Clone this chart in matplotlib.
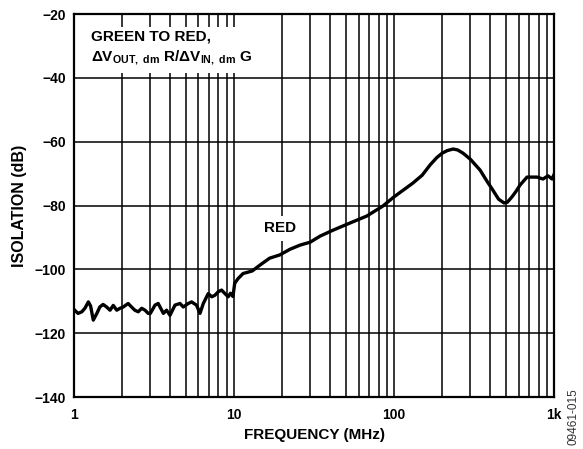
import numpy as np
import matplotlib
matplotlib.use("Agg")
from matplotlib import pyplot as plt
from matplotlib.ticker import FixedLocator, NullFormatter, FixedFormatter

plt.rcParams['font.family'] = ['Liberation Sans', 'DejaVu Sans']
plt.rcParams['font.weight'] = 'bold'
plt.rcParams['mathtext.fontset'] = 'custom'
plt.rcParams['mathtext.rm'] = 'Liberation Sans:bold'
plt.rcParams['mathtext.bf'] = 'Liberation Sans:bold'
plt.rcParams['mathtext.it'] = 'Liberation Sans:bold'

# frequency (MHz) and isolation (dB)
freq = [1.01, 1.06, 1.12, 1.17, 1.23, 1.27, 1.32, 1.39, 1.45, 1.52,
        1.60, 1.68, 1.76, 1.85, 1.94, 2.03, 2.18, 2.29, 2.40, 2.52,
        2.65, 2.78, 2.91, 3.0, 3.21, 3.36, 3.62, 3.79, 3.98, 4.28,
        4.6, 4.82, 5.18, 5.43, 5.83, 6.13, 6.43, 6.9, 7.26, 7.61,
        7.98, 8.37, 8.78, 9.2, 9.5, 9.85, 10.1, 10.6, 11.4, 12.2,
        13.0, 14.5, 16.7, 19.3, 22.4, 25.9, 29.9, 34.5, 41.7, 53,
        67.6, 85, 100, 131, 150, 168, 185, 200, 215, 234,
        250, 270, 300, 345, 380, 415, 450, 487, 510, 546,
        580, 613, 678, 783, 853, 917, 972, 1000]
isolation = [-112.8, -113.8, -113.3, -112.2, -110.2, -111.5, -115.9, -113.8, -111.8, -111.0,
             -111.8, -112.8, -111.3, -112.8, -112.2, -111.8, -110.7, -111.8, -112.8, -113.3,
             -112.2, -112.8, -113.8, -113.8, -111.2, -110.7, -113.8, -112.8, -114.4, -111.2,
             -110.7, -111.8, -110.7, -110.2, -111.2, -113.8, -110.7, -107.6, -108.6, -108.1,
             -107.0, -106.5, -107.6, -108.6, -107.5, -108.5, -104.4, -102.9, -101.3, -100.9,
             -100.5, -98.7, -96.5, -95.5, -93.7, -92.4, -91.5, -89.6, -87.7, -85.5,
             -83.3, -80.2, -77.3, -73.0, -70.5, -67.3, -65.0, -63.6, -62.8, -62.3,
             -62.6, -63.6, -65.5, -68.9, -72.3, -75.2, -78.0, -79.2, -79.0, -77.3,
             -75.5, -73.6, -71.1, -71.1, -71.7, -70.7, -71.7, -70.3]

x_major = [1, 10, 100, 1000]
x_labels = ['1', '10', '100', '1k']
y_ticks = [-140, -120, -100, -80, -60, -40, -20]

fig = plt.figure(figsize=(5.83, 4.49), dpi=100)
ax = fig.add_axes([0.1269, 0.1158, 0.8234, 0.853])

ax.semilogx(freq, isolation, color='black', lw=2.4, zorder=3)

ax.set_xlim(1, 1000)
ax.set_ylim(-140, -20)
ax.xaxis.set_major_locator(FixedLocator(x_major))
ax.xaxis.set_major_formatter(FixedFormatter(x_labels))
minors = [m * d for d in [1, 10, 100] for m in range(2, 10)]
ax.xaxis.set_minor_locator(FixedLocator(minors))
ax.xaxis.set_minor_formatter(NullFormatter())
ax.set_yticks(y_ticks)
ax.set_yticklabels(['\u2212%d' % abs(v) for v in y_ticks])

ax.grid(True, which='both', axis='x', color='black', lw=1.1)
ax.grid(True, which='major', axis='y', color='black', lw=1.1)
ax.tick_params(which='both', length=0, labelsize=10)
ax.tick_params(axis='y', pad=6)
ax.tick_params(axis='x', pad=8)
for s in ax.spines.values():
    s.set_linewidth(1.6)

ax.set_xlabel('FREQUENCY (MHz)', fontsize=11, fontweight='bold', labelpad=4)
ax.set_ylabel('ISOLATION (dB)', fontsize=11.5, fontweight='bold', labelpad=5)

ax.text(1.28, -24.8,
        'GREEN TO RED,\n\u0394V$_{\\mathbf{OUT,\\ dm}}$ R/\u0394V$_{\\mathbf{IN,\\ dm}}$ G',
        fontsize=11, fontweight='bold', va='top', ha='left', linespacing=1.45,
        bbox=dict(facecolor='white', edgecolor='none', pad=4), zorder=4)
ax.text(19.5, -87.2, 'RED', fontsize=11, fontweight='bold', ha='center', va='center',
        bbox=dict(facecolor='white', edgecolor='none', pad=4), zorder=4)

fig.text(0.984, 0.072, '09461-015', rotation=90, fontsize=8.5, fontweight='normal',
         color='#333333', ha='center', va='center')

fig.savefig('out.png', dpi=100)
